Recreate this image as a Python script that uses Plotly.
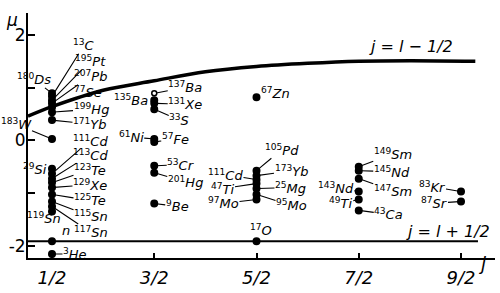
import plotly.graph_objects as go

# ---------------- data ----------------
masses = ["180", "13", "195", "207", "77", "199", "171", "183",
          "29", "111", "113", "123", "129", "125", "115", "117", "119", "", "3",
          "137", "135", "131", "33", "61", "57", "53", "201", "9",
          "67", "105", "173", "111", "47", "25", "95", "97", "17",
          "149", "145", "147", "143", "49", "43",
          "83", "87"]
elements = ["Ds", "C", "Pt", "Pb", "Se", "Hg", "Yb", "W",
            "Si", "Cd", "Cd", "Te", "Xe", "Te", "Sn", "Sn", "Sn", "n", "He",
            "Ba", "Ba", "Xe", "S", "Ni", "Fe", "Cr", "Hg", "Be",
            "Zn", "Pd", "Yb", "Cd", "Ti", "Mg", "Mo", "Mo", "O",
            "Sm", "Nd", "Sm", "Nd", "Ti", "Ca",
            "Kr", "Sr"]
spin_j = [0.5, 0.5, 0.5, 0.5, 0.5, 0.5, 0.5, 0.5,
          0.5, 0.5, 0.5, 0.5, 0.5, 0.5, 0.5, 0.5, 0.5, 0.5, 0.5,
          1.5, 1.5, 1.5, 1.5, 1.5, 1.5, 1.5, 1.5, 1.5,
          2.5, 2.5, 2.5, 2.5, 2.5, 2.5, 2.5, 2.5, 2.5,
          3.5, 3.5, 3.5, 3.5, 3.5, 3.5,
          4.5, 4.5]
moment_mu = [0.892, 0.836, 0.761, 0.704, 0.629, 0.535, 0.385, 0.028,
             -0.535, -0.629, -0.723, -0.798, -0.892, -1.023, -1.155, -1.249, -1.343, -1.906, -2.150,
             0.892, 0.761, 0.704, 0.592, 0.028, -0.028, -0.479, -0.610, -1.192,
             0.817, -0.573, -0.667, -0.742, -0.817, -0.911, -1.023, -1.117, -1.906,
             -0.498, -0.573, -0.723, -0.967, -1.117, -1.324,
             -0.967, -1.155]
open_points = [("137", "Ba")]

# Schmidt lines
schmidt_minus_j = [0.265, 0.5, 1.0, 1.5, 2.0, 2.5, 3.0, 3.5, 4.0, 4.64]
schmidt_minus_mu = [0.46, 0.64, 0.95, 1.13, 1.30, 1.40, 1.46, 1.50, 1.51, 1.50]
schmidt_plus_j = [0.265, 4.666]
schmidt_plus_mu = [-1.91, -1.91]

x_tick_vals = [0.5, 1.5, 2.5, 3.5, 4.5]
x_tick_text = ["1/2", "3/2", "5/2", "7/2", "9/2"]
y_tick_vals = [-2, -1, 0, 1, 2]
y_tick_text = ["-2", "", "0", "", "2"]

# ---------------- label placement (pixels: dx right, dy down, leader line?) ----------------
label_layout = [(-18, -14, True), (32, -51, True), (38, -39, True), (38, -27, True),
                (36, -15, True), (39, -3, True), (38, 4, True), (-36, -15, True),
                (-17, 0, False), (38, -33, True), (38, -24, True), (38, -13, True),
                (38, -3, True), (38, 6, True), (39, 15, True), (39, 26, True),
                (-8, 7, False), (14, -11, False), (23, 0, True),
                (31, -6, True), (-23, 0, False), (31, 1, True), (25, 11, True),
                (-23, -2, True), (21, -3, True), (27, -1, True), (31, 9, True), (23, 3, True),
                (19, -4, False), (25, -21, True), (35, -5, True), (-31, -5, True),
                (-34, 5, True), (34, -1, True), (35, 11, True), (-33, 4, True), (4, -11, False),
                (34, -13, True), (33, 1, True), (34, 12, True), (-23, -4, True),
                (-18, 4, True), (30, 4, True),
                (-29, -5, True), (-27, 2, True)]

FONT = "DejaVu Sans"
fig = go.Figure()

fig.add_trace(go.Scatter(x=schmidt_minus_j, y=schmidt_minus_mu, mode="lines",
                         line=dict(color="black", width=3.5, shape="spline"),
                         hoverinfo="skip", showlegend=False))
fig.add_trace(go.Scatter(x=schmidt_plus_j, y=schmidt_plus_mu, mode="lines",
                         line=dict(color="black", width=2),
                         hoverinfo="skip", showlegend=False))

marker_symbols = ["circle-open" if (m, e) in open_points else "circle"
                  for m, e in zip(masses, elements)]
marker_sizes = [5 if s == "circle-open" else 6.5 for s in marker_symbols]
fig.add_trace(go.Scatter(x=spin_j, y=moment_mu, mode="markers",
                         marker=dict(color="black", size=marker_sizes, symbol=marker_symbols,
                                     opacity=1, line=dict(color="black", width=1.5)),
                         showlegend=False))

annotations = []
for m, e, jx, mu, (dx, dy, leader) in zip(masses, elements, spin_j, moment_mu, label_layout):
    txt = (f"<sup>{m}</sup>" if m else "") + f"<i>{e}</i>"
    if leader:
        annotations.append(dict(x=jx, y=mu, xref="x", yref="y", text=txt,
                                showarrow=True, ax=dx, ay=dy, arrowhead=0,
                                arrowwidth=1.1, arrowcolor="black", standoff=2,
                                borderpad=0,
                                font=dict(family=FONT, size=13, color="black")))
    else:
        annotations.append(dict(x=jx, y=mu, xref="x", yref="y", text=txt,
                                showarrow=False, xshift=dx, yshift=-dy,
                                font=dict(family=FONT, size=13, color="black")))

annotations += [
    dict(x=4.011, y=1.775, xref="x", yref="y", text="<i>j = l − 1/2</i>",
         showarrow=False, font=dict(family=FONT, size=16, color="black")),
    dict(x=4.373, y=-1.718, xref="x", yref="y", text="<i>j = l + 1/2</i>",
         showarrow=False, font=dict(family=FONT, size=16, color="black")),
    dict(x=-0.0514, y=1.02, xref="paper", yref="paper", text="<i>μ</i>",
         xanchor="left", yanchor="top",
         showarrow=False, font=dict(family=FONT, size=17, color="black")),
    dict(x=0.985, y=-0.075, xref="paper", yref="paper", text="<i>j</i>",
         showarrow=False, font=dict(family=FONT, size=18, color="black")),
]

fig.update_layout(
    width=500, height=293,
    margin=dict(l=28, r=5, t=13, b=33),
    plot_bgcolor="white", paper_bgcolor="white",
    annotations=annotations,
    xaxis=dict(range=[0.2653, 4.8325], tickvals=x_tick_vals,
               ticktext=[f"<i>{t}</i>" for t in x_tick_text],
               ticks="inside", ticklen=5, tickwidth=1.5, tickcolor="black",
               ticklabelstandoff=2,
               showline=True, linewidth=2, linecolor="black",
               showgrid=False, zeroline=False,
               tickfont=dict(family=FONT, size=18, color="black")),
    yaxis=dict(range=[-2.2254, 2.413], tickvals=y_tick_vals, ticktext=y_tick_text,
               ticks="inside", ticklen=7, tickwidth=1.5, tickcolor="black",
               ticklabelstandoff=-3,
               showline=True, linewidth=2, linecolor="black",
               showgrid=False, zeroline=False,
               tickfont=dict(family=FONT, size=17, color="black")),
)

fig.write_html("out.html")
